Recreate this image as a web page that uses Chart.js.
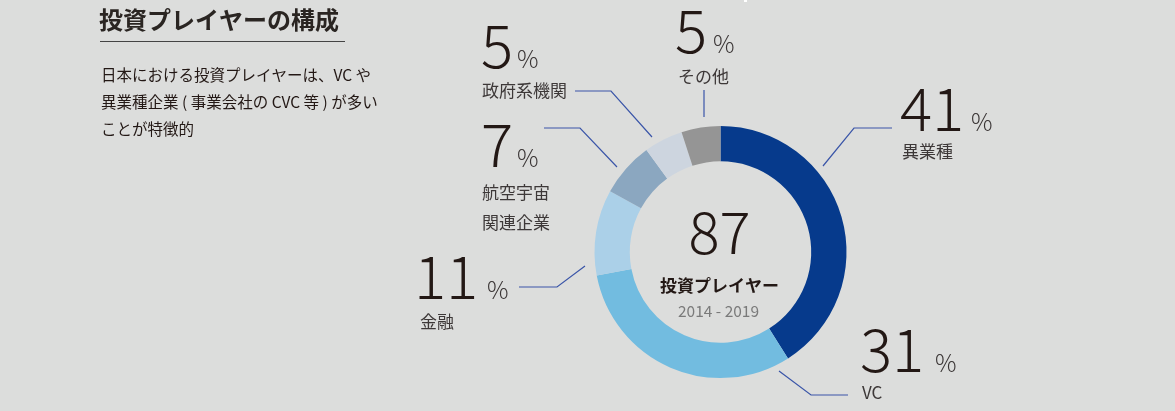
<!DOCTYPE html>
<html><head><meta charset="utf-8">
<script src="https://cdn.jsdelivr.net/npm/chart.js@4.4.1/dist/chart.umd.min.js"></script>
<style>
html,body{margin:0;padding:0;background:#dcdddc;width:1175px;height:411px;overflow:hidden;}
#wrap{position:absolute;left:0;top:0;width:1175px;height:411px;}
</style></head><body>
<div id="wrap"><canvas id="c" width="1175" height="411"></canvas></div>
<script>
const categories = ["異業種", "VC", "金融", "航空宇宙関連企業", "政府系機関", "その他"];
const shares = [41, 31, 11, 7, 5, 5];
const totalPlayers = 87;
const periodLabel = "2014 - 2019";
const colors = ["#063a8c", "#72bce0", "#abd0e8", "#8ba7c0", "#cdd5df", "#959595"];

const NUM_FONT = '"Noto Sans CJK JP", "Lato", sans-serif';
const JP_FONT = '"Noto Sans CJK JP", "Noto Sans", sans-serif';

// layout of the annotation labels (positions only)
const labelLayout = [
  {num:[900,131], pct:[971,131], name:[["異業種",902,152]], line:[[892,128],[854,128],[823,166]]},
  {num:[860,372], pct:[935,372], name:[["VC",862,393]], line:[[848,395],[811,395],[779,371]]},
  {num:[414,299], pct:[487,299], name:[["金融",420,322]], line:[[519,287],[557,287],[585,266]]},
  {num:[481,167], pct:[517,167], name:[["航空宇宙",482,193],["関連企業",482,223]], line:[[544,128],[580,128],[617,167]]},
  {num:[481,68],  pct:[517,68],  name:[["政府系機関",482,91]], line:[[575,91],[611,91],[652,137]]},
  {num:[675,53],  pct:[713,53],  name:[["その他",678,77]], line:[[704,90],[704,117]]}
];

const annot = {
  id:'annot',
  afterDraw(chart){
    const ctx = chart.ctx;
    ctx.save();
    // title
    ctx.fillStyle = '#2a2522';
    ctx.font = 'bold 24px ' + JP_FONT;
    ctx.textBaseline = 'middle';
    ctx.textAlign = 'left';
    ctx.fillText('投資プレイヤーの構成', 99, 20);
    ctx.strokeStyle = '#444';
    ctx.lineWidth = 1;
    ctx.beginPath(); ctx.moveTo(100, 41.5); ctx.lineTo(345, 41.5); ctx.stroke();
    ctx.font = '15.5px ' + JP_FONT;
    ctx.fillStyle = '#231815';
    ['日本における投資プレイヤーは、VC や','異業種企業 ( 事業会社の CVC 等 ) が多い','ことが特徴的'].forEach((t,i)=>{
      ctx.fillText(t, 101, 75 + i*27);
    });
    // labels
    const meta = chart.getDatasetMeta(0);
    labelLayout.forEach((L, i) => {
      ctx.strokeStyle = '#3a55a8';
      ctx.lineWidth = 1.2;
      ctx.beginPath();
      L.line.forEach((p, j) => j ? ctx.lineTo(p[0], p[1]) : ctx.moveTo(p[0], p[1]));
      ctx.stroke();
      ctx.fillStyle = '#231815';
      ctx.textBaseline = 'alphabetic';
      ctx.font = '300 60px ' + NUM_FONT;
      ctx.fillText(String(shares[i]), L.num[0], L.num[1]);
      ctx.fillStyle = '#3a3535';
      ctx.font = '300 24px ' + NUM_FONT;
      ctx.fillText('%', L.pct[0], L.pct[1]);
      ctx.font = '17px ' + JP_FONT;
      ctx.fillStyle = '#3d3838';
      ctx.textBaseline = 'middle';
      L.name.forEach(n => ctx.fillText(n[0], n[1], n[2]));
    });
    // center
    const arc = meta.data[0];
    const cx = arc.x, cy = arc.y;
    ctx.textAlign = 'center';
    ctx.textBaseline = 'alphabetic';
    ctx.fillStyle = '#231815';
    ctx.font = '300 58px ' + NUM_FONT;
    ctx.fillText(String(totalPlayers), cx - 1, cy + 2);
    ctx.font = 'bold 17px ' + JP_FONT;
    ctx.textBaseline = 'middle';
    ctx.fillStyle = '#231815';
    ctx.fillText('投資プレイヤー', cx - 1, cy + 34);
    ctx.font = '15.5px ' + JP_FONT;
    ctx.fillStyle = '#7a7a7a';
    ctx.fillText(periodLabel, cx - 2, cy + 59);
    // small white mark at top
    ctx.fillStyle = '#ffffff';
    ctx.fillRect(744, 0, 3, 2);
    ctx.restore();
  }
};

new Chart(document.getElementById('c'), {
  type: 'doughnut',
  data: { labels: categories, datasets: [{ data: shares, backgroundColor: colors, borderWidth: 0 }] },
  options: {
    responsive: false,
    animation: false,
    cutout: '72%',
    layout: { padding: { left: 594, right: 328, top: 126, bottom: 33 } },
    plugins: { legend: { display: false }, tooltip: { enabled: false } }
  },
  plugins: [annot]
});
</script>
</body></html>
